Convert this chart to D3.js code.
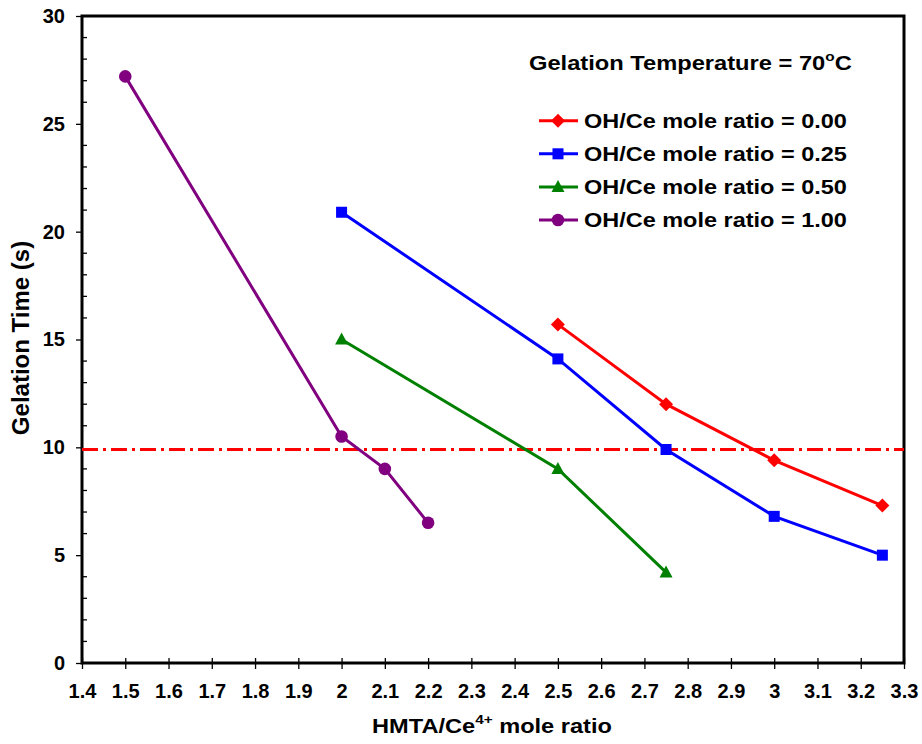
<!DOCTYPE html>
<html><head><meta charset="utf-8">
<script src="https://cdn.jsdelivr.net/npm/d3@7"></script>
<style>body{margin:0;background:#fff}svg{font-family:"Liberation Sans",Arial,sans-serif;font-weight:bold}</style>
</head><body><svg id="c" width="922" height="744"></svg>
<script>
const xTicks = [1.4,1.5,1.6,1.7,1.8,1.9,2,2.1,2.2,2.3,2.4,2.5,2.6,2.7,2.8,2.9,3,3.1,3.2,3.3];
const yTicks = [0,5,10,15,20,25,30];
const seriesNames = ["OH/Ce mole ratio = 0.00","OH/Ce mole ratio = 0.25","OH/Ce mole ratio = 0.50","OH/Ce mole ratio = 1.00"];
const seriesColors = ["#ff0000","#0000ff","#008000","#800080"];
const seriesMarkers = ["diamond","square","triangle","circle"];
const x000 = [2.5,2.75,3.0,3.25];   const y000 = [15.7,12.0,9.4,7.3];
const x025 = [2.0,2.5,2.75,3.0,3.25]; const y025 = [20.9,14.1,9.9,6.8,5.0];
const x050 = [2.0,2.5,2.75];        const y050 = [15.0,9.0,4.2];
const x100 = [1.5,2.0,2.1,2.2];     const y100 = [27.2,10.5,9.0,6.5];
const refLine = 9.9;

const svg = d3.select("#c");
const L=82,R=904,T=16,B=663;
const FF = "Liberation Sans, Arial, sans-serif";
const x = d3.scaleLinear().domain([1.4,3.3]).range([L,R]);
const y = d3.scaleLinear().domain([0,30]).range([B,T]);

function fitWidth(sel, target, ax, ay, anchor){
  const w = sel.node().getBBox().width;
  const s = target / w;
  sel.attr("transform", `translate(${ax},${ay}) scale(${s},1)`).attr("x",0).attr("y",0).attr("text-anchor",anchor||"start");
}

const gx = svg.append("g").attr("transform",`translate(0,${B})`)
  .call(d3.axisBottom(x).tickValues(xTicks).tickSize(6).tickFormat(d=>d3.format("")(d)));
gx.select(".domain").remove();
gx.selectAll(".tick line").attr("y1",-5).attr("y2",6).attr("stroke","#000").attr("stroke-width",1.3);
gx.selectAll(".tick text").attr("y",21).attr("font-size",20).attr("font-weight","bold").attr("font-family",FF).attr("fill","#000");

const gy = svg.append("g").attr("transform",`translate(${L},0)`)
  .call(d3.axisLeft(y).tickValues(yTicks).tickSize(6).tickPadding(11));
gy.select(".domain").remove();
gy.selectAll(".tick line").attr("stroke","#000").attr("stroke-width",1.3);
gy.selectAll(".tick text").attr("font-size",20).attr("font-weight","bold").attr("font-family",FF).attr("fill","#000");
const minor = d3.range(0,31).filter(v=>v%5!==0);
svg.append("g").selectAll("line").data(minor).join("line")
  .attr("x1",L).attr("x2",L+5).attr("y1",d=>y(d)).attr("y2",d=>y(d)).attr("stroke","#000").attr("stroke-width",1.3);

svg.append("rect").attr("x",L).attr("y",T).attr("width",R-L).attr("height",B-T)
  .attr("fill","none").attr("stroke","#000").attr("stroke-width",3);

svg.append("line").attr("x1",L).attr("x2",R).attr("y1",y(refLine)).attr("y2",y(refLine))
  .attr("stroke","#ff0000").attr("stroke-width",3).attr("stroke-dasharray","16,5,3,5");

const data = [[x000,y000],[x025,y025],[x050,y050],[x100,y100]];
function marker(g,type,color){
  if(type==="diamond"){
    const r=7;
    g.append("path").attr("d",`M0,${-r}L${r},0L0,${r}L${-r},0Z`).attr("fill",color);
  } else if(type==="square"){
    g.append("rect").attr("x",-5.5).attr("y",-5.5).attr("width",11).attr("height",11).attr("fill",color);
  } else if(type==="triangle"){
    g.append("path").attr("d","M0,-7L6.5,5L-6.5,5Z").attr("fill",color);
  } else {
    g.append("circle").attr("r",6.3).attr("fill",color);
  }
}
const line = d3.line().x(d=>x(d[0])).y(d=>y(d[1]));
data.forEach(([xs,ys],i)=>{
  const pts = xs.map((v,j)=>[v,ys[j]]);
  svg.append("path").datum(pts).attr("d",line).attr("fill","none").attr("stroke",seriesColors[i]).attr("stroke-width",3);
  pts.forEach(p=>{
    const g = svg.append("g").attr("transform",`translate(${x(p[0])},${y(p[1])})`);
    marker(g,seriesMarkers[i],seriesColors[i]);
  });
});

const lt = svg.append("text").attr("font-size",20).attr("fill","#000");
lt.append("tspan").text("Gelation Temperature = 70");
lt.append("tspan").attr("dy",-9).attr("font-size",13).text("o");
lt.append("tspan").attr("dy",9).text("C");
fitWidth(lt, 323, 529, 70);
seriesNames.forEach((n,i)=>{
  const cy = 120.7 + i*33.1;
  svg.append("line").attr("x1",539).attr("x2",578).attr("y1",cy).attr("y2",cy).attr("stroke",seriesColors[i]).attr("stroke-width",3);
  const g = svg.append("g").attr("transform",`translate(558,${cy})`);
  marker(g,seriesMarkers[i],seriesColors[i]);
  const t = svg.append("text").attr("font-size",20).attr("fill","#000").text(n);
  fitWidth(t, 263, 584, cy+7.2);
});

const xt = svg.append("text").attr("font-size",20).attr("fill","#000");
xt.append("tspan").text("HMTA/Ce");
xt.append("tspan").attr("dy",-9).attr("font-size",13).text("4+");
xt.append("tspan").attr("dy",9).text(" mole ratio");
fitWidth(xt, 240, 492, 733, "middle");
svg.append("text").attr("transform","translate(29,338) rotate(-90)").attr("text-anchor","middle").attr("font-size",24).attr("fill","#000").text("Gelation Time (s)");
</script></body></html>
